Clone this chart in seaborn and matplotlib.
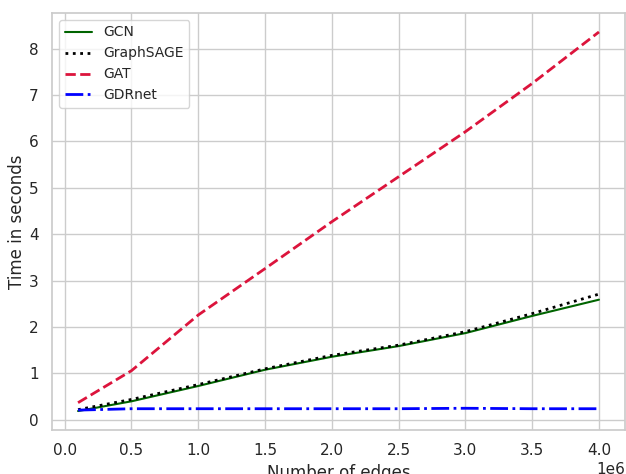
import matplotlib
matplotlib.use("Agg")
import matplotlib.pyplot as plt
import seaborn as sns
import pandas as pd

# ── Data ──────────────────────────────────────────────────────────────
edges     = [0.1e6, 0.5e6, 1.0e6, 1.5e6, 2.0e6, 2.5e6, 3.0e6, 3.5e6, 4.0e6]
gcn       = [0.19, 0.40, 0.73, 1.08, 1.36, 1.59, 1.87, 2.24, 2.59]
graphsage = [0.22, 0.44, 0.76, 1.10, 1.39, 1.61, 1.90, 2.29, 2.71]
gat       = [0.37, 1.06, 2.26, 3.26, 4.27, 5.24, 6.21, 7.25, 8.36]
gdrnet    = [0.21, 0.24, 0.24, 0.24, 0.24, 0.24, 0.25, 0.24, 0.24]

series = [
    ("GCN",       gcn,       "darkgreen", "-",  1.5),
    ("GraphSAGE", graphsage, "black",     ":",  2.0),
    ("GAT",       gat,       "crimson",   "--", 2.0),
    ("GDRnet",    gdrnet,    "blue",      "-.", 2.0),
]

sns.set_theme(context="notebook", style="whitegrid")
plt.rcParams["font.family"] = ["DejaVu Sans"]

fig = plt.figure(figsize=(6.26, 4.74), dpi=100)
ax = fig.add_axes([52 / 626, 44 / 474, 573 / 626, 417 / 474])

for name, vals, colour, ls, lw in series:
    df = pd.DataFrame({"edges": edges, "time": vals})
    sns.lineplot(data=df, x="edges", y="time", color=colour, linestyle=ls,
                 linewidth=lw, label=name, ax=ax)

ax.set_xlabel("Number of edges")
ax.set_ylabel("Time in seconds", labelpad=2)
ax.legend(loc="upper left", fontsize=10)

fig.savefig("out.png", dpi=100)
